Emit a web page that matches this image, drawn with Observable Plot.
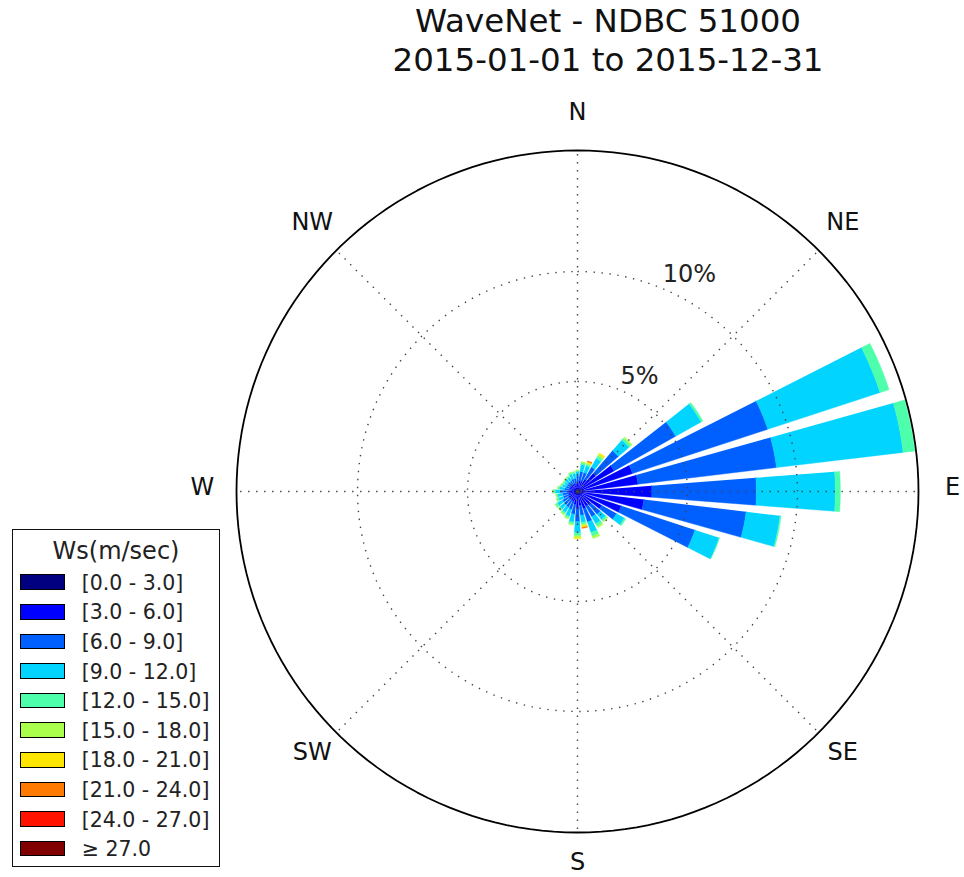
<!DOCTYPE html>
<html>
<head>
<meta charset="utf-8">
<script src="https://cdn.jsdelivr.net/npm/d3@7"></script>
<script src="https://cdn.jsdelivr.net/npm/@observablehq/plot@0.6"></script>
<style>
html, body { margin: 0; padding: 0; background: #fff; }
body { width: 964px; height: 877px; position: relative; overflow: hidden; font-family: "DejaVu Sans", sans-serif; }
#chart { position: absolute; left: 0; top: 0; }
#title { position: absolute; left: 608px; top: 2px; transform: translateX(-50%); font-size: 32.5px; line-height: 38.5px; text-align: center; white-space: nowrap; color: #111; }
#legend { position: absolute; left: 12px; top: 529px; width: 206px; height: 336px; border: 1.6px solid #111; background: #fff; }
#legend .ltitle { position: absolute; left: 0; width: 100%; top: 9px; font-size: 24px; line-height: 24px; text-align: center; color: #222; }
#legend .sw { position: absolute; left: 7px; width: 45px; height: 15.7px; box-sizing: border-box; border: 1.5px solid #000; }
#legend .lab { position: absolute; left: 68.7px; font-size: 20.5px; line-height: 20.5px; white-space: nowrap; color: #222; }
</style>
</head>
<body>
<div id="chart"></div>
<div id="title">WaveNet - NDBC 51000<br>2015-01-01 to 2015-12-31</div>
<div id="legend"></div>
<script>
// ---- data ----
const sectorAngles = [0, 11.25, 22.5, 33.75, 45, 56.25, 67.5, 78.75, 90, 101.25, 112.5, 123.75,
  135, 146.25, 157.5, 168.75, 180, 191.25, 202.5, 213.75, 225, 236.25, 247.5, 258.75,
  270, 281.25, 292.5, 303.75, 315, 326.25, 337.5, 348.75];
const binLabels = ["[0.0 - 3.0]", "[3.0 - 6.0]", "[6.0 - 9.0]", "[9.0 - 12.0]", "[12.0 - 15.0]",
  "[15.0 - 18.0]", "[18.0 - 21.0]", "[21.0 - 24.0]", "[24.0 - 27.0]", "\u2265 27.0"];
const binColors = ["#000080", "#0000ff", "#0060ff", "#00d4ff", "#4dffaa",
  "#aaff4d", "#ffe600", "#ff7a00", "#ff1300", "#800000"];
// frequency (%) per direction sector for each speed bin
const freq_0_3 = [0.14,0.14,0.14,0.14,0.18,0.23,0.27,0.27,0.27,0.27,0.23,0.18,0.18,0.18,0.18,0.14,
  0.14,0.14,0.14,0.14,0.14,0.14,0.14,0.14,0.14,0.14,0.14,0.14,0.14,0.14,0.14,0.14];
const freq_3_6 = [0.32,0.36,0.36,0.50,0.91,1.68,2.36,2.50,3.11,2.77,1.86,1.09,0.64,0.59,0.64,0.50,
  0.64,0.45,0.36,0.32,0.32,0.32,0.27,0.27,0.32,0.23,0.23,0.23,0.23,0.23,0.23,0.23];
const freq_6_9 = [0.27,0.41,0.41,0.64,1.36,3.21,6.47,6.34,4.75,4.68,3.53,0.77,0.55,0.55,0.64,0.45,
  0.59,0.45,0.36,0.36,0.32,0.32,0.27,0.27,0.32,0.23,0.18,0.18,0.18,0.18,0.23,0.23];
const freq_9_12 = [0.18,0.32,0.32,0.45,0.64,1.33,5.37,5.80,3.59,1.55,1.15,0.41,0.32,0.36,0.50,0.32,
  0.50,0.36,0.32,0.27,0.27,0.27,0.23,0.23,0.23,0.23,0.18,0.14,0.18,0.18,0.23,0.23];
const freq_12_15 = [0.05,0.09,0.09,0.14,0.11,0.09,0.43,0.53,0.23,0.05,0.02,0.07,0.09,0.14,0.18,0.09,
  0.14,0.09,0.09,0.09,0.09,0.11,0.09,0.07,0.09,0.07,0.07,0.07,0.07,0.07,0.07,0.07];
const freq_15_18 = [0.02,0.05,0.05,0.07,0.07,0,0,0,0,0,0,0,0.05,0.07,0.11,0.07,
  0.09,0.05,0.05,0.05,0.02,0.02,0.02,0.02,0.02,0.02,0.02,0.02,0.02,0.02,0.02,0.02];
const freq_18_21 = [0,0,0.05,0.07,0,0,0,0,0,0,0,0,0,0,0,0.07,
  0.05,0,0,0,0,0,0,0,0,0,0,0,0,0,0,0];
const freq_21_24 = [0,0,0.05,0,0,0,0,0,0,0,0,0,0,0,0,0.05,
  0,0,0,0,0,0,0,0,0,0,0,0,0,0,0,0];
const freq_24_27 = [0,0,0,0,0,0,0,0,0,0,0,0,0,0,0,0,0,0,0,0,0,0,0,0,0,0,0,0,0,0,0,0];
const freq_27_up = [0,0,0,0,0,0,0,0,0,0,0,0,0,0,0,0,0,0,0,0,0,0,0,0,0,0,0,0,0,0,0,0];
const dirLabels = ["N", "NE", "E", "SE", "S", "SW", "W", "NW"];
const dirAngles = [0, 45, 90, 135, 180, 225, 270, 315];
const ringValues = [5, 10];
const ringLabels = ["5%", "10%"];
const rMax = 15.5;

// ---- layout ----
const W = 964, H = 877, cx = 577, cy = 491, pxPer = 22;
const halfOpen = 4.4, labelR = 17.05;

const series = [freq_0_3, freq_3_6, freq_6_9, freq_9_12, freq_12_15, freq_15_18, freq_18_21, freq_21_24, freq_24_27, freq_27_up];
const rad = a => a * Math.PI / 180;
const px = (r, a) => r * Math.sin(rad(a));
const py = (r, a) => r * Math.cos(rad(a));

const wedges = [];
sectorAngles.forEach((a, i) => {
  let r0 = 0;
  series.forEach((vals, b) => {
    const v = vals[i];
    if (!(v > 0)) return;
    const r1 = r0 + v, id = i * 100 + b, n = 12;
    for (let k = 0; k <= n; k++) { const t = a - halfOpen + 2 * halfOpen * k / n; wedges.push({id, bin: binLabels[b], x: px(r1, t), y: py(r1, t)}); }
    for (let k = n; k >= 0; k--) { const t = a - halfOpen + 2 * halfOpen * k / n; wedges.push({id, bin: binLabels[b], x: px(r0, t), y: py(r0, t)}); }
    r0 = r1;
  });
});

const circ = (r, key) => { const pts = []; for (let k = 0; k <= 360; k += 2) pts.push({key, x: px(r, k), y: py(r, k)}); return pts; };
const ringPts = ringValues.flatMap(r => circ(r, r));
const outerPts = circ(rMax, "outer");
const dirData = dirLabels.map((t, i) => ({t, a: dirAngles[i]}));
const ringText = ringValues.map((v, i) => ({t: ringLabels[i], v}));

const gridStyle = {stroke: "#444", strokeWidth: 1.4, strokeDasharray: "1.4,6.6", strokeLinecap: "butt"};

const chart = Plot.plot({
  width: W, height: H, margin: 0,
  x: {domain: [-cx / pxPer, (W - cx) / pxPer], axis: null},
  y: {domain: [(cy - H) / pxPer, cy / pxPer], axis: null},
  color: {domain: binLabels, range: binColors},
  style: {fontFamily: "DejaVu Sans", background: "#fff", overflow: "visible"},
  marks: [
    Plot.line(wedges, {x: "x", y: "y", z: "id", fill: "bin", stroke: "bin", strokeWidth: 0.4, curve: "linear"}),
    Plot.line(ringPts, {x: "x", y: "y", z: "key", fill: "none", ...gridStyle}),
    Plot.link(dirAngles, {x1: () => 0, y1: () => 0, x2: a => px(rMax, a), y2: a => py(rMax, a), ...gridStyle}),
    Plot.line(outerPts, {x: "x", y: "y", stroke: "#000", strokeWidth: 1.8, fill: "none"}),
    Plot.text(dirData, {x: d => px(labelR, d.a), y: d => py(labelR, d.a), text: "t", fontSize: 24, fill: "#111", textAnchor: "middle", lineAnchor: "middle", dy: -4}),
    Plot.text(ringText, {x: d => px(d.v, 22.5), y: d => py(d.v, 22.5), text: "t", fontSize: 24, fill: "#222", textAnchor: "start", lineAnchor: "bottom", dx: 1, dy: -6})
  ]
});
document.getElementById("chart").appendChild(chart);

// ---- legend ----
const lg = document.getElementById("legend");
const tt = document.createElement("div"); tt.className = "ltitle"; tt.textContent = "Ws(m/sec)"; lg.appendChild(tt);
const cs = chart.scale("color");
binLabels.forEach((lab, k) => {
  const s = document.createElement("div"); s.className = "sw";
  s.style.top = (44.4 + 29.6 * k) + "px"; s.style.background = cs.apply(lab); lg.appendChild(s);
  const l = document.createElement("div"); l.className = "lab";
  l.style.top = (42.8 + 29.6 * k) + "px"; l.textContent = lab; lg.appendChild(l);
});
</script>
</body>
</html>
